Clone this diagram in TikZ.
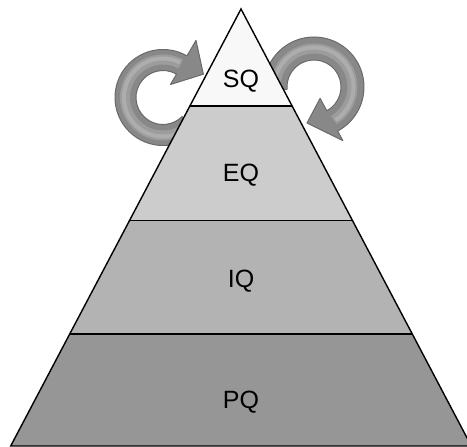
\documentclass[tikz,border=0pt]{standalone}
\usepackage{fontspec}
\setmainfont{Liberation Sans}
\definecolor{tierS}{HTML}{F8F8F8}
\definecolor{tierE}{HTML}{CCCCCC}
\definecolor{tierI}{HTML}{B3B3B3}
\definecolor{tierP}{HTML}{969696}
\definecolor{arrowmid}{HTML}{888888}
\definecolor{arrowdark}{HTML}{6A6A6A}
\definecolor{arrowsoft}{HTML}{9C9C9C}
\definecolor{arrowlight}{HTML}{ADADAD}

\begin{document}
\begin{tikzpicture}[
  x=1pt, y=1pt,
  outline/.style={draw=black, line width=1.4pt, line join=miter},
  lbl/.style={font=\fontsize{25}{30}\selectfont, anchor=base, inner sep=0pt},
  ringbody/.style={fill=arrowmid, draw=arrowdark, line width=1pt, line join=round},
  ringsoft/.style={draw=arrowsoft, line width=10pt},
  ringshine/.style={draw=arrowlight, line width=4pt}
]
\clip (0,0) rectangle (467,447);

% circular arrow on the left of the top tier
\begin{scope}[shift={(163,349.5)}]
  \path[ringbody] (-45:48) arc[start angle=-45, end angle=-300, radius=48]
    -- (60:66) -- (30:46.6) -- (60:15) -- (60:27)
    arc[start angle=-300, end angle=-45, radius=27] -- cycle;
  \draw[ringsoft] (-45:38) arc[start angle=-45, end angle=-298, radius=38];
  \draw[ringshine] (-45:39) arc[start angle=-45, end angle=-296, radius=39];
\end{scope}

% circular arrow on the right of the top tier
\begin{scope}[shift={(314,360)}]
  \path[ringbody] (185:50) arc[start angle=185, end angle=-61.7, radius=50]
    -- (-61.7:60.9) -- (-101:36.7) -- (-61.7:12.9) -- (-61.7:27)
    arc[start angle=-61.7, end angle=185, radius=27] -- cycle;
  \draw[ringsoft] (185:38.5) arc[start angle=185, end angle=-59, radius=38.5];
  \draw[ringshine] (185:39.5) arc[start angle=185, end angle=-57, radius=39.5];
\end{scope}

% pyramid corners
\coordinate (apex) at (241,438);
\coordinate (s1) at (189.9,341);   \coordinate (s2) at (292.1,341);
\coordinate (e1) at (129.5,226.5); \coordinate (e2) at (352.5,226.5);
\coordinate (i1) at (69.7,113);    \coordinate (i2) at (412.3,113);
\coordinate (p1) at (10.7,1);      \coordinate (p2) at (471.3,1);

% tiers
\fill[tierS] (apex) -- (s2) -- (s1) -- cycle;
\fill[tierE] (s1) -- (s2) -- (e2) -- (e1) -- cycle;
\fill[tierI] (e1) -- (e2) -- (i2) -- (i1) -- cycle;
\fill[tierP] (i1) -- (i2) -- (p2) -- (p1) -- cycle;
\draw[outline] (p1) -- (apex) -- (p2) -- cycle;
\draw[outline] (s1) -- (s2);
\draw[outline] (e1) -- (e2);
\draw[outline] (i1) -- (i2);

% labels
\node[lbl] (sq) at (241,359.5) {SQ};
\node[lbl] (eq) at (241,265.3) {EQ};
\node[lbl] (iq) at (241,159) {IQ};
\node[lbl] (pq) at (241,38) {PQ};
\end{tikzpicture}
\end{document}
